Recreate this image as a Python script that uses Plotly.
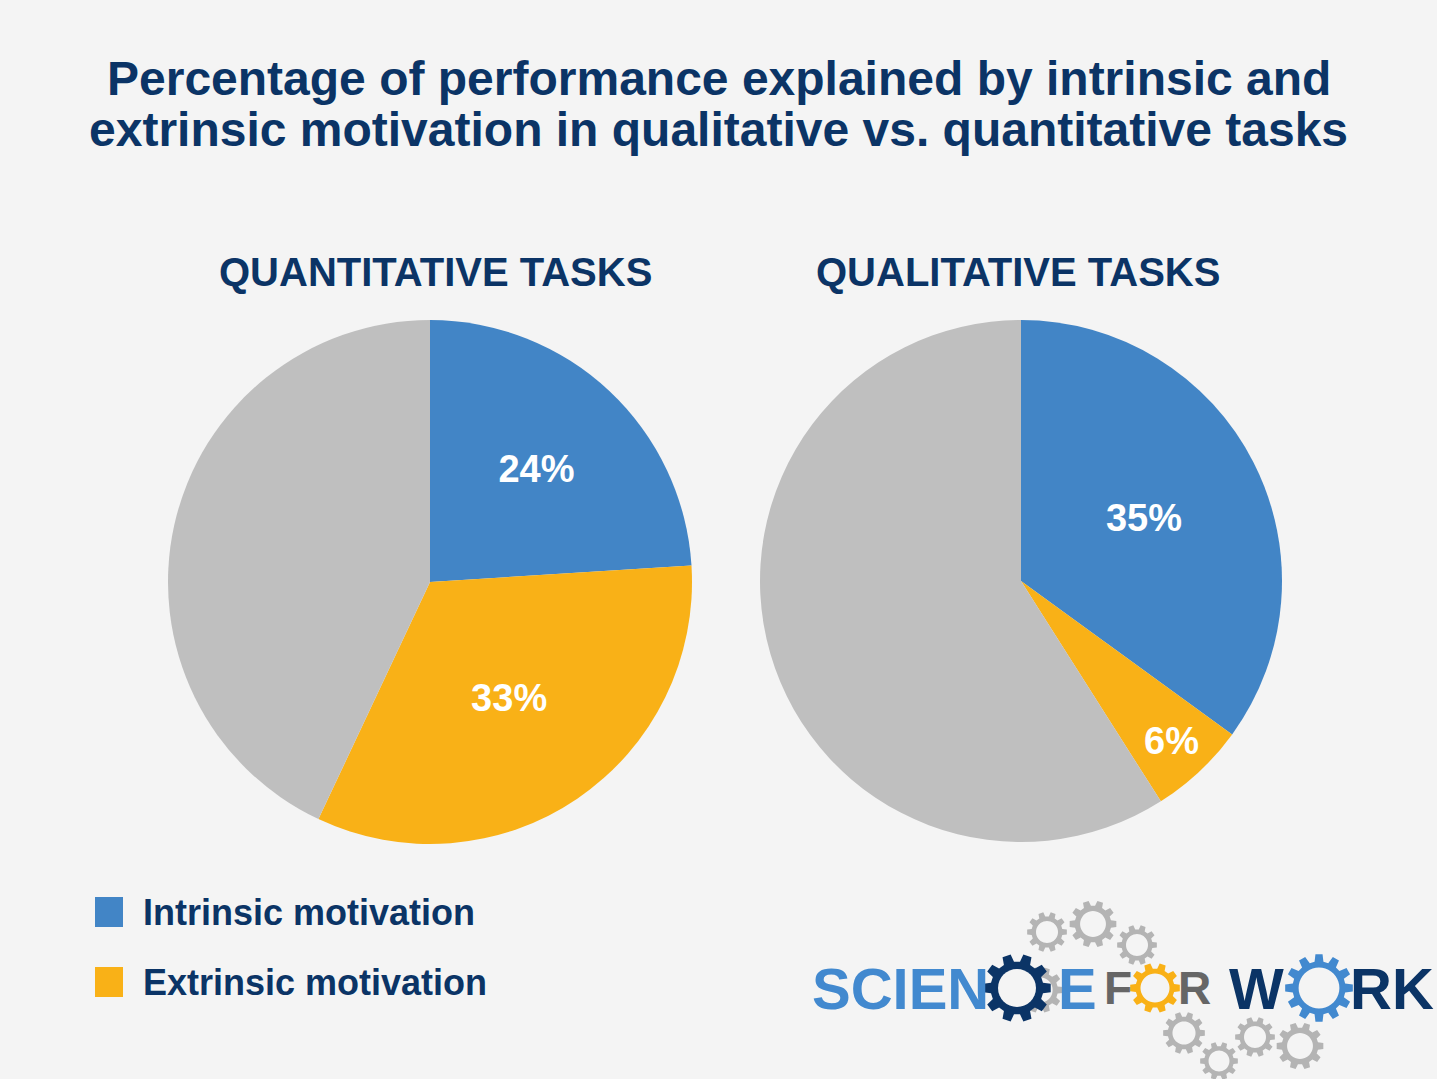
import math
import plotly.graph_objects as go

# ---------------- data ----------------
categories = ["Intrinsic motivation", "Extrinsic motivation", "Other factors"]
quantitative_values = [24, 33, 43]
qualitative_values = [35, 6, 59]
panel_titles = ["QUANTITATIVE TASKS", "QUALITATIVE TASKS"]
legend_labels = ["Intrinsic motivation", "Extrinsic motivation"]
title_lines = ["Percentage of performance explained by intrinsic and",
               "extrinsic motivation in qualitative vs. quantitative tasks"]

# ---------------- style ----------------
W, H = 1437, 1079
BG = "#f4f4f4"
NAVY = "#0b3466"
COLORS = ["#4285c6", "#f9b117", "#bfbfbf"]
FONT = "Liberation Sans"


def px(x):
    return x / W


def py(y):
    return 1 - y / H


fig = go.Figure()

domains = [
    dict(x=[px(168), px(692)], y=[py(844), py(320)]),
    dict(x=[px(760), px(1282)], y=[py(842), py(320)]),
]

for vals, dom in zip([quantitative_values, qualitative_values], domains):
    fig.add_trace(go.Pie(
        labels=categories,
        values=vals,
        sort=False,
        direction="clockwise",
        rotation=0,
        domain=dom,
        marker=dict(colors=COLORS, line=dict(width=0)),
        texttemplate=["%{percent:.0%}", "%{percent:.0%}", ""],
        textposition="inside",
        insidetextorientation="horizontal",
        textfont=dict(family=FONT, size=38, color="white", weight="bold"),
        showlegend=False,
        hovertemplate="%{label}: %{percent:.0%}<extra></extra>",
    ))

annotations = []
shapes = []

# title (two lines, tight line spacing)
for line, cy in zip(title_lines, [78, 130]):
    annotations.append(dict(
        text=line, x=0.5, y=py(cy), xref="paper", yref="paper",
        xanchor="center", yanchor="middle", showarrow=False,
        font=dict(family=FONT, size=48, color=NAVY, weight="bold"),
    ))

# panel titles
for t, cx in zip(panel_titles, [436, 1018]):
    annotations.append(dict(
        text=t, x=px(cx), y=py(272), xref="paper", yref="paper",
        xanchor="center", yanchor="middle", showarrow=False,
        font=dict(family=FONT, size=40, color=NAVY, weight="bold"),
    ))

# legend
for lab, col, cy in zip(legend_labels, COLORS[:2], [912, 982]):
    shapes.append(dict(type="rect", xref="paper", yref="paper",
                       x0=px(95), x1=px(123), y0=py(cy + 15), y1=py(cy - 15),
                       fillcolor=col, line=dict(width=0)))
    annotations.append(dict(
        text=lab, x=px(141), y=py(cy), xref="paper", yref="paper",
        xanchor="left", yanchor="middle", showarrow=False,
        font=dict(family=FONT, size=36, color=NAVY, weight="bold"),
    ))


# ---------------- logo (decorative) ----------------
def gear_path(cx, cy, r, teeth=10, hole=0.55, with_hole=True):
    pitch = 2 * math.pi / teeth
    r_root = 0.78 * r
    pts = []
    for i in range(teeth):
        a = i * pitch
        for rr, da in [(r_root, -0.32), (r, -0.2), (r, 0.2), (r_root, 0.32)]:
            ang = a + da * pitch
            pts.append((cx + rr * math.cos(ang), cy + rr * math.sin(ang)))
    d = "M " + " L ".join(f"{px(x):.5f},{py(y):.5f}" for x, y in pts) + " Z"
    if with_hole:
        hp = []
        for k in range(40):
            ang = 2 * math.pi * k / 40
            hp.append((cx + hole * r * math.cos(ang), cy + hole * r * math.sin(ang)))
        d += " M " + " L ".join(f"{px(x):.5f},{py(y):.5f}" for x, y in hp) + " Z"
    return d


LGRAY = "#b4b4b4"
gray_gears = [
    (1047, 932, 20), (1093, 924, 23.5), (1137, 945, 20), (1040, 990, 23),
    (1184, 1033, 21), (1219, 1061, 19), (1255, 1037, 20), (1300, 1046, 23.5),
]
for cx, cy, r in gray_gears:
    shapes.append(dict(type="path", xref="paper", yref="paper",
                       path=gear_path(cx, cy, r, teeth=10), fillcolor=LGRAY,
                       line=dict(width=0), layer="above"))

# navy gear (solid, then background hole so gray gear behind doesn't show)
shapes.append(dict(type="path", xref="paper", yref="paper",
                   path=gear_path(1017, 988, 34, teeth=10, with_hole=False),
                   fillcolor=NAVY, line=dict(width=0), layer="above"))
shapes.append(dict(type="circle", xref="paper", yref="paper",
                   x0=px(1017 - 19), x1=px(1017 + 19), y0=py(988 + 19), y1=py(988 - 19),
                   fillcolor=BG, line=dict(width=0), layer="above"))
shapes.append(dict(type="path", xref="paper", yref="paper",
                   path=gear_path(1155, 988, 25, teeth=10, hole=0.58), fillcolor="#f9b117",
                   line=dict(width=0), layer="above"))
shapes.append(dict(type="path", xref="paper", yref="paper",
                   path=gear_path(1319, 988, 34, teeth=12, hole=0.6), fillcolor="#4289cf",
                   line=dict(width=0), layer="above"))

logo_text = [
    ("SCIEN", "#4289cf", 900, 58),
    ("E", "#4289cf", 1077, 58),
    ("F", "#666666", 1118, 46),
    ("R", "#666666", 1194, 46),
    ("W", "#0b3466", 1256, 58),
    ("RK", "#0b3466", 1392, 58),
]
for t, col, x, size in logo_text:
    annotations.append(dict(
        text=t, x=px(x), y=py(988), xref="paper", yref="paper",
        xanchor="center", yanchor="middle", showarrow=False,
        font=dict(family=FONT, size=size, color=col, weight="bold"),
    ))

fig.update_layout(
    width=W, height=H,
    margin=dict(l=0, r=0, t=0, b=0),
    paper_bgcolor=BG, plot_bgcolor=BG,
    annotations=annotations,
    shapes=shapes,
    showlegend=False,
)

fig.write_html("out.html", config={"displayModeBar": False},
               post_script="document.body.style.margin='0';")
